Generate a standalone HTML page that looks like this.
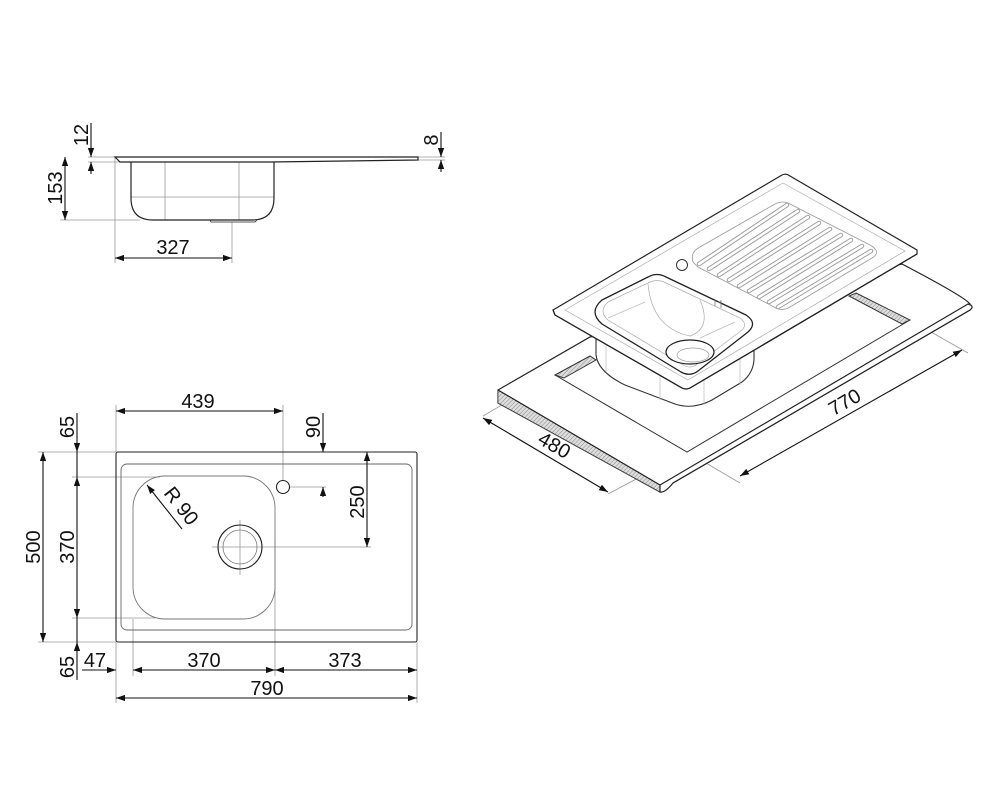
<!DOCTYPE html>
<html><head><meta charset="utf-8"><style>
html,body{margin:0;padding:0;background:#fff;}
svg{display:block;}
text{font-family:"Liberation Sans",Arial,sans-serif;font-size:20px;fill:#111;}
</style></head><body>
<svg width="1000" height="800" viewBox="0 0 1000 800" xmlns="http://www.w3.org/2000/svg">
<defs>
<marker id="a" viewBox="0 0 10 10" refX="10" refY="5" markerWidth="9" markerHeight="9" orient="auto-start-reverse" markerUnits="userSpaceOnUse"><path d="M0,1.5 L10,5 L0,8.5 z" fill="#111"/></marker>
<pattern id="h" width="3" height="3" patternUnits="userSpaceOnUse" patternTransform="rotate(45)"><rect width="3" height="3" fill="#ddd"/><line x1="0" y1="0" x2="0" y2="3" stroke="#888" stroke-width="1"/></pattern>
</defs>

<!-- ===== SIDE VIEW ===== -->
<g fill="none" stroke="#999" stroke-width="0.8">
<line x1="88" y1="157" x2="115" y2="157"/><line x1="88" y1="162" x2="131" y2="162"/>
<line x1="60" y1="220" x2="140" y2="220"/>
<line x1="115" y1="157" x2="115" y2="263"/><line x1="232" y1="222" x2="232" y2="263"/>
<line x1="418" y1="157" x2="445" y2="157"/><line x1="418" y1="160" x2="445" y2="160"/>
<line x1="165" y1="162" x2="165" y2="220"/><line x1="239" y1="162" x2="239" y2="220"/>
<line x1="131" y1="197" x2="274" y2="197"/>
</g>
<g fill="none" stroke="#222" stroke-width="1.2">
<path d="M115,157 L418,157 L418,160 L270,162 L120,162 Z"/>
<path d="M131,162 L131,198 Q131,220 153,220 L252,220 Q274,220 274,198 L274,162"/>
<path d="M210,220 L211,222 L255,222 L257,220" stroke-width="0.8"/>
</g>
<g stroke="#111" stroke-width="1.1" fill="none">
<line x1="91" y1="123" x2="91" y2="157" marker-end="url(#a)"/>
<line x1="91" y1="174" x2="91" y2="162" marker-end="url(#a)"/>
<line x1="65" y1="157" x2="65" y2="220" marker-start="url(#a)" marker-end="url(#a)"/>
<line x1="115" y1="258" x2="232" y2="258" marker-start="url(#a)" marker-end="url(#a)"/>
<line x1="441" y1="132" x2="441" y2="157" marker-end="url(#a)"/>
<line x1="441" y1="172" x2="441" y2="160" marker-end="url(#a)"/>
</g>
<text transform="translate(88,135) rotate(-90)" text-anchor="middle">12</text>
<text transform="translate(62,188) rotate(-90)" text-anchor="middle">153</text>
<text x="173" y="254" text-anchor="middle">327</text>
<text transform="translate(438,140) rotate(-90)" text-anchor="middle">8</text>

<!-- ===== TOP VIEW ===== -->
<g fill="none" stroke="#999" stroke-width="0.8">
<line x1="38" y1="452" x2="116" y2="452"/><line x1="38" y1="642" x2="116" y2="642"/>
<line x1="72" y1="477" x2="160" y2="477"/><line x1="72" y1="618" x2="155" y2="618"/>
<line x1="116" y1="405" x2="116" y2="452"/>
<line x1="283" y1="405" x2="283" y2="480"/>
<line x1="290" y1="487" x2="326" y2="487"/>
<line x1="245" y1="547" x2="371" y2="547"/>
<line x1="116" y1="642" x2="116" y2="703"/><line x1="417" y1="642" x2="417" y2="703"/>
<line x1="133" y1="619" x2="133" y2="676"/><line x1="275" y1="540" x2="275" y2="676"/>
<line x1="240" y1="520" x2="240" y2="575"/><line x1="212" y1="547" x2="245" y2="547"/>
</g>
<g fill="none" stroke="#222" stroke-width="1.1">
<rect x="116" y="452" width="301" height="190" rx="2"/>
<rect x="121" y="464" width="291" height="166" rx="6" stroke="#666" stroke-width="0.9"/>
<rect x="133" y="476" width="142" height="143" rx="32" stroke="#777" stroke-width="0.9"/>
<circle cx="283" cy="487" r="6.5"/>
<circle cx="240" cy="547" r="22"/>
<circle cx="240" cy="547" r="17" stroke="#777" stroke-width="0.8"/>
</g>
<g stroke="#111" stroke-width="1.1" fill="none">
<line x1="116" y1="411" x2="283" y2="411" marker-start="url(#a)" marker-end="url(#a)"/>
<line x1="323" y1="413" x2="323" y2="452" marker-end="url(#a)"/>
<line x1="323" y1="497" x2="323" y2="487" marker-end="url(#a)"/>
<line x1="367" y1="452" x2="367" y2="547" marker-start="url(#a)" marker-end="url(#a)"/>
<line x1="43" y1="452" x2="43" y2="642" marker-start="url(#a)" marker-end="url(#a)"/>
<line x1="77" y1="413" x2="77" y2="452" marker-end="url(#a)"/>
<line x1="77" y1="452" x2="77" y2="477"/>
<line x1="77" y1="477" x2="77" y2="618" marker-start="url(#a)" marker-end="url(#a)"/>
<line x1="77" y1="618" x2="77" y2="642"/>
<line x1="77" y1="680" x2="77" y2="642" marker-end="url(#a)"/>
<line x1="82" y1="670" x2="116" y2="670" marker-end="url(#a)"/>
<line x1="133" y1="670" x2="275" y2="670" marker-start="url(#a)" marker-end="url(#a)"/>
<line x1="275" y1="670" x2="417" y2="670" marker-start="url(#a)" marker-end="url(#a)"/>
<line x1="116" y1="698" x2="417" y2="698" marker-start="url(#a)" marker-end="url(#a)"/>
<line x1="182" y1="529" x2="147" y2="485" marker-end="url(#a)"/>
</g>
<text x="198" y="408" text-anchor="middle">439</text>
<text transform="translate(320,427) rotate(-90)" text-anchor="middle">90</text>
<text transform="translate(364,502) rotate(-90)" text-anchor="middle">250</text>
<text transform="translate(40,547) rotate(-90)" text-anchor="middle">500</text>
<text transform="translate(74,547) rotate(-90)" text-anchor="middle">370</text>
<text transform="translate(74,427) rotate(-90)" text-anchor="middle">65</text>
<text transform="translate(74,667) rotate(-90)" text-anchor="middle">65</text>
<text x="95" y="667" text-anchor="middle">47</text>
<text x="204" y="667" text-anchor="middle">370</text>
<text x="345" y="667" text-anchor="middle">373</text>
<text x="267" y="695" text-anchor="middle">790</text>
<text transform="translate(176,510) rotate(52)" text-anchor="middle">R 90</text>

<!-- ===== ISOMETRIC ===== -->
<g fill="none" stroke="#999" stroke-width="0.8">
<line x1="548" y1="378" x2="483" y2="416"/>
<line x1="687" y1="452" x2="608" y2="494"/>
<line x1="910" y1="320" x2="968" y2="353"/>
<line x1="687" y1="452" x2="740" y2="483"/>
</g>
<g stroke="#222" stroke-width="1.2" fill="#fff">
<path d="M498,390 L590,337 L902,264 Q965,297 970,304 L970,310 L673,483 Q662,490 660,492 L498,403 Z" fill="#fff"/>
<path d="M498,390 L660,485 L660,492 L498,403 Z" fill="url(#h)" stroke="#444" stroke-width="0.8"/>
<path d="M660,485 L968,304 Q975,306 970,310 L673,483 Q665,493 660,492 Z" fill="#fff" stroke="#222"/>
<line x1="498" y1="390" x2="660" y2="485"/>
</g>
<g stroke="#333" stroke-width="1" fill="none">
<path d="M555,375 L590,356 L596,360 L564,378 Z" fill="url(#h)"/>
<path d="M856,293 L910,320 L902,324 L849,296 Z" fill="url(#h)"/>
<path d="M555,375 L687,452 L910,320"/>
</g>
<g fill="#fff" stroke="#333" stroke-width="1.1">
<path d="M596,333 L596,355 Q598,372 625,385 L675,404 Q693,410 712,400 L742,382 Q755,372 754,355 L754,335 Z"/>
</g>
<g fill="none" stroke="#bbb" stroke-width="0.7">
<line x1="606" y1="345" x2="606" y2="372"/>
<line x1="660" y1="370" x2="660" y2="400"/>
<line x1="704" y1="370" x2="704" y2="405"/>
<line x1="740" y1="345" x2="740" y2="385"/>
</g>
<g stroke="#222" stroke-width="1.2" fill="#fff">
<path d="M553,310 L782,175 Q786,173 790,176 L917,250 L917,254 L690,388 Q686,390 682,388 L555,315 Z"/>
<path d="M553,310 L555,315 L682,388 Q686,390 690,388 L917,254" fill="none"/>
<path d="M565,310 L783,183 L905,251 L688,380 Z" fill="none" stroke="#aaa" stroke-width="0.7"/>
</g>
<g fill="none">
<path d="M602,300 L648,277 Q657,272 666,277 L746,315 Q758,323 748,332 L698,371 Q690,377 681,372 L602,324 Q588,312 602,300 Z" stroke="#222" stroke-width="1.3" fill="#fff"/>
<path d="M608,302 L650,282 Q657,279 664,282 L740,318 Q748,324 742,330 L696,365 Q690,369 683,365 L608,320 Q598,311 608,302 Z" stroke="#aaa" stroke-width="0.7"/>
<path d="M648,284 Q652,328 690,336 Q712,328 700,300" stroke="#aaa" stroke-width="0.7"/>
<line x1="608" y1="318" x2="645" y2="302" stroke="#bbb" stroke-width="0.7"/>
<line x1="735" y1="322" x2="700" y2="338" stroke="#bbb" stroke-width="0.7"/>
<ellipse cx="690" cy="352" rx="24" ry="12" stroke="#222" stroke-width="1.2" fill="#fff"/>
<ellipse cx="693" cy="355" rx="16" ry="7" stroke="#999" stroke-width="0.7"/>
<circle cx="682" cy="265" r="5.5" stroke="#333" stroke-width="1"/>
<path d="M715,300 v6 M718,302 h3 M721,300 v8" stroke="#777" stroke-width="0.8"/>
</g>
<!-- drainer -->
<path d="M693,262 Q690,252 700,247 L775,204 Q783,200 790,204 L870,245 Q882,252 872,258 L790,307 Q782,312 774,307 L698,267 Z" fill="none" stroke="#999" stroke-width="0.8"/>
<g stroke-linecap="round" fill="none">
<g stroke="#999" stroke-width="4.5">
<line x1="787" y1="205" x2="699" y2="264"/>
<line x1="798" y1="211" x2="709" y2="269"/>
<line x1="808" y1="217" x2="719" y2="275"/>
<line x1="819" y1="223" x2="729" y2="280"/>
<line x1="830" y1="229" x2="739" y2="286"/>
<line x1="841" y1="235" x2="749" y2="291"/>
<line x1="851" y1="240" x2="759" y2="297"/>
<line x1="862" y1="246" x2="769" y2="302"/>
<line x1="871" y1="251" x2="778" y2="307"/>
</g>
<g stroke="#fff" stroke-width="2.6">
<line x1="787" y1="205" x2="699" y2="264"/>
<line x1="798" y1="211" x2="709" y2="269"/>
<line x1="808" y1="217" x2="719" y2="275"/>
<line x1="819" y1="223" x2="729" y2="280"/>
<line x1="830" y1="229" x2="739" y2="286"/>
<line x1="841" y1="235" x2="749" y2="291"/>
<line x1="851" y1="240" x2="759" y2="297"/>
<line x1="862" y1="246" x2="769" y2="302"/>
<line x1="871" y1="251" x2="778" y2="307"/>
</g>
</g>
<g stroke="#111" stroke-width="1.1" fill="none">
<line x1="483" y1="418" x2="608" y2="492" marker-start="url(#a)" marker-end="url(#a)"/>
<line x1="740" y1="476" x2="962" y2="350" marker-start="url(#a)" marker-end="url(#a)"/>
</g>
<text transform="translate(551,451) rotate(30)" text-anchor="middle">480</text>
<text transform="translate(848,408) rotate(-30)" text-anchor="middle">770</text>
</svg>
</body></html>
